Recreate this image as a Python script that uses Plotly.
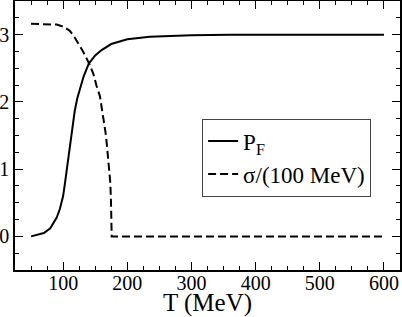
import plotly.graph_objects as go

# Data
T_pf = [50, 60, 70, 80, 90, 95, 100, 103, 106, 110, 114, 118, 122, 126, 132,
        140, 150, 160, 175, 200, 235, 300, 360, 450, 600]
P_F = [0.0, 0.02, 0.05, 0.12, 0.28, 0.41, 0.6, 0.8, 1.02, 1.33, 1.62, 1.86,
       2.05, 2.2, 2.38, 2.57, 2.69, 2.77, 2.86, 2.93, 2.97, 2.99, 3.0, 3.0, 3.0]

T_sig = [50, 70, 90, 100, 110, 116, 124, 131, 140, 147, 152, 157.5, 160, 163,
         166, 168, 170, 172, 173.5, 174.5, 175.2, 175.7, 200, 300, 400, 500, 600]
SIGMA = [3.16, 3.16, 3.15, 3.12, 3.06, 2.99, 2.86, 2.75, 2.58, 2.42, 2.24, 2.08,
         1.92, 1.75, 1.55, 1.38, 1.18, 0.98, 0.8, 0.55, 0.3, 0.0, 0.0, 0.0, 0.0,
         0.0, 0.0]

x_ticks = [100, 200, 300, 400, 500, 600]
y_ticks = [0, 1, 2, 3]

FONT = "Liberation Serif, Times New Roman, Times, serif"

fig = go.Figure()
fig.add_trace(go.Scatter(x=T_pf, y=P_F, mode="lines", name="P<sub>F</sub>",
                         line=dict(color="black", width=2)))
fig.add_trace(go.Scatter(x=T_sig, y=SIGMA, mode="lines", name="σ/(100 MeV)",
                         line=dict(color="black", width=2, dash="8px,4px")))

axis_common = dict(
    showline=True, linecolor="black", linewidth=1.5, mirror="allticks",
    ticks="inside", ticklen=8, tickwidth=1.2, tickcolor="black",
    showgrid=False, zeroline=False,
    tickfont=dict(family=FONT, size=20, color="black"),
)

fig.update_xaxes(range=[25, 625], tickvals=x_ticks, ticklabelstandoff=-6,
                 automargin=False,
                 minor=dict(dtick=25, tick0=0, ticks="inside", ticklen=4,
                            tickwidth=1, tickcolor="black", showgrid=False),
                 title=dict(text="T (MeV)",
                            font=dict(family=FONT, size=25, color="black")),
                 **axis_common)
fig.update_yaxes(range=[-0.5, 3.5], tickvals=y_ticks, automargin=False,
                 minor=dict(dtick=0.25, tick0=0, ticks="inside", ticklen=4,
                            tickwidth=1, tickcolor="black", showgrid=False),
                 **axis_common)

fig.update_layout(
    width=402, height=317,
    margin=dict(l=15, r=2, t=1, b=47),
    paper_bgcolor="white", plot_bgcolor="white",
    font=dict(family=FONT, color="black"),
    showlegend=True,
    legend=dict(x=0.486, y=0.563, xanchor="left", yanchor="top",
                bgcolor="white", bordercolor="#444", borderwidth=1,
                font=dict(family=FONT, size=23, color="black"),
                itemwidth=30, tracegroupgap=0),
)

fig.write_html("out.html", config={"displayModeBar": False},
               post_script="document.body.style.margin='0';document.body.style.overflow='hidden';")
